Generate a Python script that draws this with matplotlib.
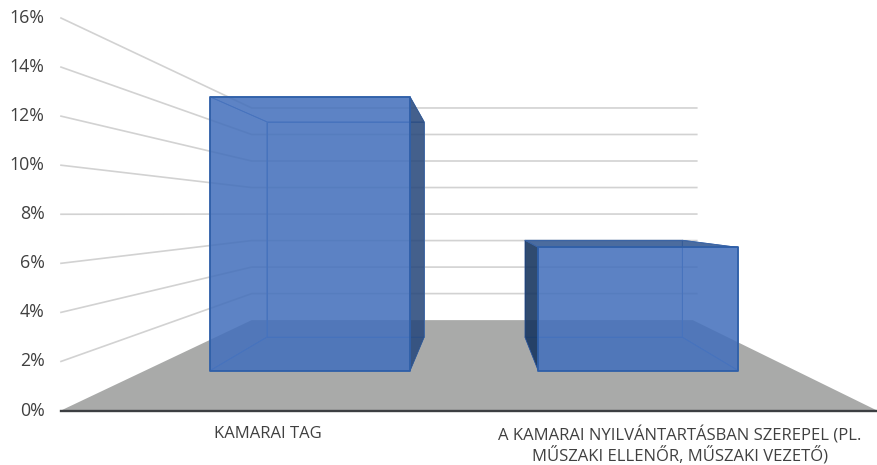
import matplotlib
matplotlib.use("Agg")
import matplotlib.pyplot as plt
from matplotlib.patches import Polygon

plt.rcParams["font.family"] = ["Open Sans", "DejaVu Sans"]

categories = ["KAMARAI TAG",
              "A KAMARAI NYILVÁNTARTÁSBAN SZEREPEL (PL.\nMŰSZAKI ELLENŐR, MŰSZAKI VEZETŐ)"]
values = [14.0, 6.3]
ticks = [0, 2, 4, 6, 8, 10, 12, 14, 16]

# perspective set-up, in pixels of the 877x465 picture
W, H = 877, 465
LEFT, RIGHT = 61, 877
Y0, PX_PER_PCT = 410.5, 24.53
VP_X, VP_Y = 476, 213.8
K = 0.85
BAR_W = 0.615
BAR_OFF = [0.507, 1.516]
Z_FRONT, Z_BACK = 0.3, 0.7
GRID_OVERHANG = 4

TEXT = "#404040"
GRID = "#d2d2d2"
FLOOR = "#a9aaa9"
BLUE = "#4470BC"
EDGE = "#2f5fa8"


def proj(cat, val, z):
    """category units, percent, depth (0 front, 1 back) -> picture pixels"""
    s = 1 / (1 + K * z)
    fx = LEFT + (RIGHT - LEFT) / 2 * cat
    fy = Y0 - PX_PER_PCT * val
    return VP_X + (fx - VP_X) * s, VP_Y + (fy - VP_Y) * s


def face(ax, pts, color, alpha, edge=None, lw=0.0, zorder=3):
    ax.add_patch(Polygon(pts, closed=True, facecolor=color, alpha=alpha, lw=0, zorder=zorder))
    if edge:
        ax.add_patch(Polygon(pts, closed=True, fill=False, edgecolor=edge, lw=lw,
                             joinstyle="round", zorder=zorder + 0.1))


def draw_bar(ax, center, val):
    a, b = center - BAR_W / 2, center + BAR_W / 2
    fa0, fb0 = proj(a, 0, Z_FRONT), proj(b, 0, Z_FRONT)
    fa1, fb1 = proj(a, val, Z_FRONT), proj(b, val, Z_FRONT)
    ba0, bb0 = proj(a, 0, Z_BACK), proj(b, 0, Z_BACK)
    ba1, bb1 = proj(a, val, Z_BACK), proj(b, val, Z_BACK)

    # faces seen through the front
    face(ax, [ba0, bb0, bb1, ba1], BLUE, 0.12, "#5b86c8", 0.7, 3)
    face(ax, [fa0, fb0, bb0, ba0], BLUE, 0.18, "#4a78bd", 0.6, 3)
    right_seen = fb0[0] < bb0[0]
    if right_seen:
        face(ax, [fa0, ba0, ba1, fa1], BLUE, 0.10, "#5b86c8", 0.6, 3)
        face(ax, [fb0, bb0, bb1, fb1], "#27477a", 0.85, "#33588f", 0.5, 4)
    else:
        face(ax, [fb0, bb0, bb1, fb1], BLUE, 0.10, "#5b86c8", 0.6, 3)
        face(ax, [fa0, ba0, ba1, fa1], "#16345e", 0.88, "#2f5596", 0.5, 4)

    # top is only seen from above when it sits under the vanishing point
    if fa1[1] > VP_Y:
        face(ax, [fa1, fb1, bb1, ba1], "#2f5590", 0.85, "#3a64a6", 0.6, 4)
    else:
        face(ax, [fa1, fb1, bb1, ba1], BLUE, 0.10, "#5b86c8", 0.6, 3)

    face(ax, [fa0, fb0, fb1, fa1], BLUE, 0.85, EDGE, 1.3, 5)


fig = plt.figure(figsize=(W / 100, H / 100), dpi=100)
ax = fig.add_axes([0, 0, 1, 1])
ax.set_xlim(0, W)
ax.set_ylim(H, 0)
ax.axis("off")

# floor
face(ax, [proj(0, 0, 0), proj(2, 0, 0), proj(2, 0, 1), proj(0, 0, 1)], FLOOR, 1.0, zorder=1)

# gridlines: side wall + back wall
for t in ticks[1:]:
    p0, p1, p2 = proj(0, t, 0), proj(0, t, 1), proj(2, t, 1)
    ax.plot([p0[0], p1[0], p2[0] + GRID_OVERHANG], [p0[1], p1[1], p2[1]], color=GRID, lw=1.2,
            zorder=2, solid_joinstyle="miter")

# axis line
p0, p1 = proj(0, 0, 0), proj(2, 0, 0)
ax.plot([p0[0], p1[0]], [p0[1], p1[1]], color="#3c3f42", lw=1.7, zorder=6)

for center, val in zip(BAR_OFF, values):
    draw_bar(ax, center, val)

for t in ticks:
    y = proj(0, t, 0)[1]
    ax.text(44.5, y, f"{t}%", ha="right", va="center", fontsize=12.8, color=TEXT)

for center, label in zip(BAR_OFF, categories):
    x = proj(center, 0, 0)[0]
    ax.text(x, 426, label, ha="center", va="top", fontsize=12, color=TEXT, linespacing=1.25)

fig.savefig("out.png", dpi=100)
plt.close(fig)
